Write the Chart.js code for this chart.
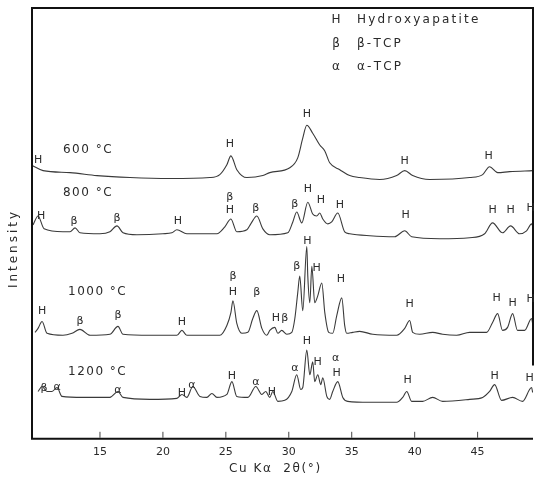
<!DOCTYPE html>
<html><head><meta charset="utf-8">
<script src="https://cdn.jsdelivr.net/npm/chart.js@4"></script>
<style>html,body{margin:0;padding:0;background:#fff}#wrap{width:539px;height:493px;position:relative}</style>
</head><body><div id="wrap"><canvas id="c"></canvas></div>
<script>
// 2θ (degrees) and intensity (a.u., above each pattern's own baseline)
const x600 = [9.65,10.48,12.62,14.76,17.38,20.56,23.73,24.52,25.08,25.40,25.87,26.67,27.94,28.49,30.08,30.71,31.11,31.43,31.90,32.46,32.86,33.25,34.05,34.84,35.63,37.22,38.57,39.21,39.84,41.19,44.37,45.40,45.95,46.59,47.54,49.37];
const y600 = [13,8,6,3,1,0,1,4,14,23,9,1,3,6,11,21,41,54,46,34,28,16,9,3,1,-1,3,8,3,-1,1,4,12,6,7,8];
const x800 = [9.68,10.08,10.56,12.06,12.62,13.02,13.41,15.00,15.79,16.35,16.83,17.94,20.00,20.71,21.11,21.90,24.29,24.92,25.40,25.87,26.67,26.98,27.46,27.94,28.49,29.92,30.32,30.63,31.03,31.51,31.90,32.22,32.46,32.70,33.10,33.41,33.89,34.44,34.84,36.43,38.41,39.21,39.76,41.98,44.37,45.56,46.19,46.98,47.62,48.33,48.89,49.29,49.37];
const y800 = [13,22,9,6,6,10,5,4,6,12,5,3,4,5,8,4,4,11,19,6,8,14,22,9,3,5,16,26,15,36,24,22,25,19,14,16,25,6,4,2,1,7,1,-1,0,4,15,5,12,4,7,14,12];
const x1000 = [9.84,10.08,10.40,10.79,12.06,12.78,13.41,14.21,15.79,16.43,16.83,18.97,21.11,21.51,21.90,24.52,25.08,25.40,25.56,25.87,26.27,26.75,27.14,27.46,27.86,28.25,28.49,28.89,29.13,29.44,29.84,30.24,30.48,30.71,30.87,31.11,31.43,31.51,31.67,31.83,32.06,32.30,32.62,32.86,33.17,33.49,33.81,34.21,34.44,34.60,35.08,35.63,36.67,38.57,39.21,39.60,39.84,40.40,41.43,42.22,43.33,44.37,45.71,46.19,46.59,46.98,47.38,47.78,48.17,48.73,49.29,49.37];
const y1000 = [3,7,14,2,0,2,6,0,1,9,1,0,0,5,0,0,10,23,35,12,2,3,17,25,7,0,5,8,2,5,1,3,17,43,60,25,90,60,33,70,33,40,53,23,3,2,20,38,10,2,3,4,1,0,7,15,3,1,3,1,0,3,3,13,22,5,8,22,5,5,17,12];
const x1200 = [10.08,10.40,10.79,11.19,11.59,11.98,13.65,15.79,16.43,16.83,18.97,21.11,21.51,21.90,22.38,22.94,23.49,23.89,24.29,25.08,25.48,25.87,26.75,27.38,27.86,28.17,28.49,28.73,29.13,29.68,30.24,30.63,30.95,31.11,31.43,31.67,31.90,32.06,32.30,32.54,32.70,33.02,33.25,33.49,33.89,34.29,34.68,36.43,38.57,39.05,39.37,39.76,40.63,41.43,42.22,44.37,45.40,45.95,46.35,46.90,47.78,48.57,49.29,49.37];
const y1200 = [9,14,9,9,13,4,3,3,9,3,1,2,6,3,14,4,3,7,3,6,19,4,3,14,6,9,3,9,-1,0,9,26,11,13,51,26,39,19,26,16,23,4,1,9,19,3,-1,-2,-2,3,9,-1,-1,3,-1,1,3,9,16,0,3,-1,13,8];

const tempLabels = ['600 °C','800 °C','1000 °C','1200 °C'];
const offsets = [264, 204, 105, 39];        // vertical stacking offset of each pattern (a.u.)
const tempLabelX = [12.06, 12.06, 12.46, 12.46];
const tempLabelY = [293, 249, 149, 68];

const xTicks = [15, 20, 25, 30, 35, 40, 45];
const xTitle = 'Cu Kα  2θ(°)';
const yTitle = 'Intensity';

const legendSymbols = ['H', 'β', 'α'];
const legendNames = ['Hydroxyapatite', 'β-TCP', 'α-TCP'];

// phase labels over peaks: 2θ, height (a.u., absolute), letter
const peakX = [10.08,25.32,31.43,39.21,45.87,
  10.32,12.94,16.35,21.19,25.32,25.32,27.38,30.48,31.51,32.54,34.05,39.29,46.19,47.62,49.21,
  10.40,13.41,16.43,21.51,25.56,25.56,27.46,28.97,29.68,30.63,31.47,32.22,34.13,39.60,46.51,47.78,49.21,
  10.56,11.59,16.43,21.51,22.30,25.48,27.38,28.65,30.48,31.43,32.30,33.73,33.81,39.44,46.35,49.13];
const peakY = [283,299,329,282,287,
  226,221,224,221,245,232,234,238,253,242,237,227,232,232,234,
  130,119,125,118,165,149,149,122,122,175,200,173,162,137,143,138,142,
  51,52,49,46,54,64,57,47,72,99,78,82,67,59,64,62];
const peakText = ['H','H','H','H','H',
  'H','β','β','H','β','H','β','β','H','H','H','H','H','H','H',
  'H','β','β','H','β','H','β','H','β','β','H','H','H','H','H','H','H',
  'β','α','α','H','α','H','α','H','α','H','H','α','H','H','H','H'];

const seriesX = [x600, x800, x1000, x1200];
const seriesY = [y600, y800, y1000, y1200];

const ink = '#2a2a2a';
const datasets = seriesX.map((xs, s) => ({
  label: tempLabels[s],
  data: xs.map((x, i) => ({x: x, y: seriesY[s][i] + offsets[s]})),
  borderColor: '#3a3a3a',
  borderWidth: 1.1,
  pointRadius: 0,
  cubicInterpolationMode: 'monotone',
  fill: false
}));

// draw text with manual extra spacing between characters
function spacedText(ctx, text, x, y, spacing, align) {
  const chars = Array.from(text);
  const widths = chars.map(c => ctx.measureText(c).width);
  const total = widths.reduce((s, w) => s + w, 0) + spacing * (chars.length - 1);
  let cx = align === 'center' ? x - total / 2 : x;
  const saved = ctx.textAlign;
  ctx.textAlign = 'left';
  chars.forEach((c, i) => { ctx.fillText(c, cx, y); cx += widths[i] + spacing; });
  ctx.textAlign = saved;
}

const overlay = {
  id: 'overlay',
  afterDraw(chart) {
    const {ctx, chartArea: a, scales: {x, y}} = chart;
    ctx.save();
    // frame
    ctx.strokeStyle = '#111';
    ctx.lineWidth = 2;
    ctx.beginPath();
    ctx.moveTo(a.left, a.bottom); ctx.lineTo(a.left, a.top); ctx.lineTo(a.right, a.top);
    ctx.lineTo(a.right, a.top + (a.bottom - a.top) * 0.83);
    ctx.moveTo(a.left - 1, a.bottom); ctx.lineTo(a.right, a.bottom);
    ctx.stroke();
    // inner tick marks
    ctx.lineWidth = 1;
    ctx.strokeStyle = '#444';
    xTicks.forEach(v => {
      const px = x.getPixelForValue(v);
      ctx.beginPath(); ctx.moveTo(px, a.bottom - 1); ctx.lineTo(px, a.bottom - 7); ctx.stroke();
    });
    ctx.fillStyle = ink;
    ctx.textBaseline = 'middle';
    // peak letters
    ctx.font = '11px "DejaVu Sans"';
    ctx.textAlign = 'center';
    peakText.forEach((t, i) => {
      ctx.fillText(t, x.getPixelForValue(peakX[i]), y.getPixelForValue(peakY[i]));
    });
    // temperature labels
    ctx.font = '12px "DejaVu Sans"';
    tempLabels.forEach((t, i) => {
      spacedText(ctx, t, x.getPixelForValue(tempLabelX[i]), y.getPixelForValue(tempLabelY[i]), 1.5, 'left');
    });
    // legend
    legendSymbols.forEach((sym, i) => {
      const yy = a.top + 12 + i * 23.5;
      spacedText(ctx, sym, a.left + 304, yy, 0, 'center');
      spacedText(ctx, legendNames[i], a.left + 325, yy, 2.2, 'left');
    });
    // x title
    spacedText(ctx, xTitle, (a.left + a.right) / 2 - 8, a.bottom + 30, 1.6, 'center');
    // y title
    ctx.save();
    ctx.translate(14, a.top + 242);
    ctx.rotate(-Math.PI / 2);
    spacedText(ctx, yTitle, 0, 0, 3, 'center');
    ctx.restore();
    ctx.restore();
  }
};

new Chart(document.getElementById('c'), {
  type: 'line',
  data: {datasets},
  options: {
    responsive: true,
    maintainAspectRatio: false,
    animation: false,
    layout: {padding: {left: 32, right: 6, top: 8, bottom: 27}},
    plugins: {legend: {display: false}, tooltip: {enabled: false}},
    scales: {
      x: {
        type: 'linear', min: 9.6, max: 49.4,
        afterBuildTicks: s => { s.ticks = xTicks.map(v => ({value: v})); },
        grid: {display: false, drawTicks: false},
        border: {display: false},
        ticks: {color: ink, font: {family: 'DejaVu Sans', size: 11}, padding: 7, maxRotation: 0, autoSkip: false},
        title: {display: false}
      },
      y: {display: false, min: 0, max: 437}
    }
  },
  plugins: [overlay]
});
</script>
</body></html>
